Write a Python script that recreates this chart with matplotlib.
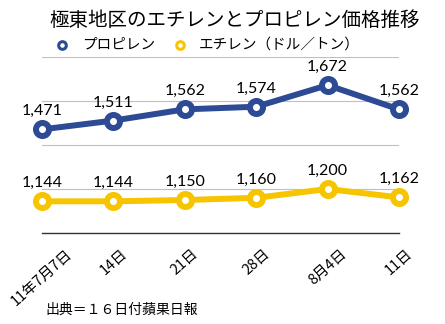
import matplotlib
matplotlib.use("Agg")
import matplotlib.pyplot as plt

plt.rcParams['font.family'] = ['Noto Sans CJK JP', 'DejaVu Sans']

dates = ["11年7月7日", "14日", "21日", "28日", "8月4日", "11日"]
propylene = [1471, 1511, 1562, 1574, 1672, 1562]
ethylene = [1144, 1144, 1150, 1160, 1200, 1162]

blue = "#2d4b94"
yellow = "#f6c500"

fig = plt.figure(figsize=(4.45, 3.24), dpi=100)
ax = fig.add_axes([42 / 445, 1 - 233 / 324, 357 / 445, 176 / 324])

x = list(range(len(dates)))
for vals, col in [(propylene, blue), (ethylene, yellow)]:
    ax.plot(x, vals, color=col, lw=4.3, marker="o", ms=9.4, mew=4.3,
            mfc="white", mec=col, clip_on=False, zorder=3)
    for xi, v in zip(x, vals):
        ax.annotate(f"{v:,}", (xi, v), xytext=(0, 8), textcoords="offset points",
                    ha="center", va="bottom", fontsize=11.5, family="Lato", zorder=4)

ax.set_xlim(0, 5)
ax.set_ylim(1000, 1800)
ax.set_yticks([1000, 1200, 1400, 1600, 1800])
ax.yaxis.grid(True, color="#c0c0c0", lw=0.8)
ax.set_axisbelow(True)
ax.tick_params(axis="y", left=False, labelleft=False)
ax.tick_params(axis="x", length=0, pad=10, labelsize=10.5)
ax.set_xticks(x)
ax.set_xticklabels(dates, rotation=42, ha="center", va="top")
for s in ["top", "left", "right"]:
    ax.spines[s].set_visible(False)
ax.spines["bottom"].set_color("#333333")
ax.spines["bottom"].set_linewidth(1.0)

fig.text(235 / 445, 1 - 20 / 324, "極東地区のエチレンとプロピレン価格推移",
         ha="center", va="center", fontsize=14)

# legend
fig.lines.append(plt.Line2D([62 / 445], [1 - 45 / 324], transform=fig.transFigure,
                            marker="o", ms=5.5, mew=2.2, mfc="white", mec=blue, ls=""))
fig.text(82 / 445, 1 - 45 / 324, "プロピレン", va="center", fontsize=10.5)
fig.lines.append(plt.Line2D([180 / 445], [1 - 45 / 324], transform=fig.transFigure,
                            marker="o", ms=5.5, mew=2.2, mfc="white", mec=yellow, ls=""))
fig.text(199 / 445, 1 - 45 / 324, "エチレン（ドル／トン）", va="center", fontsize=10.5)

fig.text(45 / 445, 1 - 310 / 324, "出典＝１６日付蘋果日報", va="center", fontsize=10)

fig.savefig("out.png", dpi=100)
